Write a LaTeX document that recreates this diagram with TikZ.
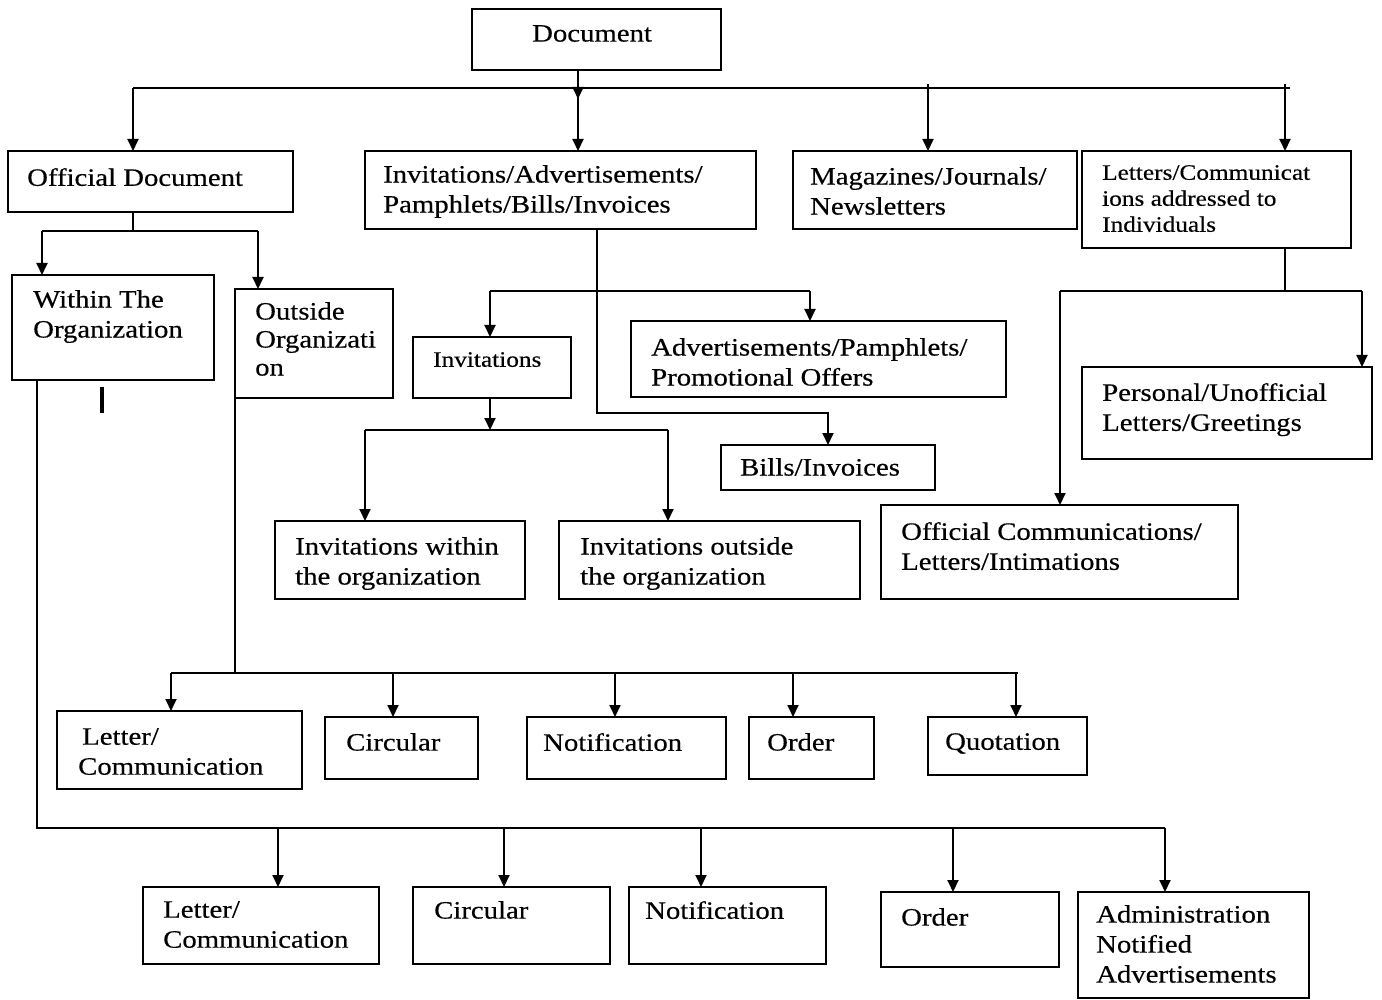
\documentclass[tikz,border=0pt]{standalone}
\usepackage{fontspec}
\setmainfont{Liberation Serif}[FakeStretch=1.15,FakeBold=0.4]
\usetikzlibrary{arrows.meta}
\tikzset{
  box/.style={draw, line width=1.9pt, anchor=north west, inner sep=0pt, outer sep=0pt},
  txt/.style={anchor=north west, inner sep=0pt, align=left, font=\fontsize{25}{30}\selectfont},
  otxt/.style={txt, font=\fontsize{25}{28}\selectfont},
  stxt/.style={txt, font=\fontsize{22}{26}\selectfont},
  conn/.style={line width=1.9pt},
  arr/.style={conn, -{Triangle[length=12pt,width=11pt]}},
}
\newcommand\mybox[5]{\node[box, minimum width={(#4-#2)*1pt}, minimum height={(#5-#3)*1pt}] (#1) at (#2,#3) {};}
\begin{document}
\begin{tikzpicture}[x=1pt,y=-1pt]
\useasboundingbox (0,0) rectangle (1382,1000);
% boxes
\mybox{doc}{472}{9}{721}{70}
\mybox{off}{8}{151}{293}{212}
\mybox{invad}{365}{151}{756}{229}
\mybox{mag}{793}{151}{1077}{229}
\mybox{let}{1082}{151}{1351}{248}
\mybox{within}{12}{275}{214}{380}
\mybox{outside}{235}{289}{393}{398}
\mybox{inv}{413}{337}{571}{398}
\mybox{adv}{631}{321}{1006}{397}
\mybox{bills}{721}{445}{935}{490}
\mybox{pers}{1082}{367}{1372}{459}
\mybox{invw}{275}{521}{525}{599}
\mybox{invo}{559}{521}{860}{599}
\mybox{offc}{881}{505}{1238}{599}
\mybox{lca}{57}{711}{302}{789}
\mybox{cira}{325}{717}{478}{779}
\mybox{nota}{527}{717}{726}{779}
\mybox{orda}{749}{717}{874}{779}
\mybox{quo}{928}{717}{1087}{775}
\mybox{lcb}{143}{887}{379}{964}
\mybox{cirb}{413}{887}{610}{964}
\mybox{notb}{629}{887}{826}{964}
\mybox{ordb}{881}{892}{1059}{967}
\mybox{adm}{1078}{892}{1309}{998}
% texts
\node[txt] (tdoc) at (532,25) {Document};
\node[txt] (toff) at (27,168) {Official Document};
\node[txt] (tinvad) at (383,165) {Invitations/Advertisements/\\Pamphlets/Bills/Invoices};
\node[txt] (tmag) at (810,167) {Magazines/Journals/\\Newsletters};
\node[stxt] (tlet) at (1102,165) {Letters/Communicat\\ions addressed to\\Individuals};
\node[txt] (twithin) at (33,290) {Within The\\Organization};
\node[otxt] (tout) at (255,302) {Outside\\Organizati\\on};
\node[stxt] (tinv) at (433,352) {Invitations};
\node[txt] (tadv) at (651,338) {Advertisements/Pamphlets/\\Promotional Offers};
\node[txt] (tbills) at (740,458) {Bills/Invoices};
\node[txt] (tpers) at (1102,383) {Personal/Unofficial\\Letters/Greetings};
\node[txt] (tinvw) at (295,537) {Invitations within\\the organization};
\node[txt] (tinvo) at (580,537) {Invitations outside\\the organization};
\node[txt] (toffc) at (901,522) {Official Communications/\\Letters/Intimations};
\node[txt] (tlca) at (78,728) {\hspace{4pt}Letter/\\Communication};
\node[txt] (tcira) at (346,733) {Circular};
\node[txt] (tnota) at (543,733) {Notification};
\node[txt] (torda) at (767,733) {Order};
\node[txt] (tquo) at (945,733) {Quotation};
\node[txt] (tlcb) at (163,901) {Letter/\\Communication};
\node[txt] (tcirb) at (434,901) {Circular};
\node[txt] (tnotb) at (645,901) {Notification};
\node[txt] (tordb) at (901,908) {Order};
\node[txt] (tadm) at (1096,905) {Administration\\Notified\\Advertisements};
% top level bus
\coordinate (j0) at (578,88);
\coordinate (bL) at (133,88);
\coordinate (bR) at (1290,88);
\coordinate (tM) at (928,84);
\coordinate (tL) at (1285,84);
\draw[conn] (bL) -- (bR);
\draw[arr] (doc.south -| j0) -- ([yshift=-11pt]j0);
\draw[arr] (j0) -- (invad.north -| j0);
\draw[arr] (bL) -- (off.north -| bL);
\draw[arr] (tM) -- (mag.north -| tM);
\draw[arr] (tL) -- (let.north -| tL);
% official document split
\coordinate (o1) at (133,231);
\coordinate (o1L) at (42,231);
\coordinate (o1R) at (258,231);
\draw[conn] (off.south -| o1) -- (o1);
\draw[conn] (o1L) -- (o1R);
\draw[arr] (o1L) -- (within.north -| o1L);
\draw[arr] (o1R) -- (outside.north -| o1R);
% stray mark
\coordinate (m1) at (102,387);
\coordinate (m2) at (102,413);
\draw[line width=4pt] (m1) -- (m2);
% within the organization bus
\coordinate (w1) at (37,828);
\coordinate (d1) at (278,828);
\coordinate (d2) at (504,828);
\coordinate (d3) at (701,828);
\coordinate (d4) at (953,828);
\coordinate (d5) at (1165,828);
\draw[conn] (within.south -| w1) -- (w1) -- (d5);
\draw[arr] (d1) -- (lcb.north -| d1);
\draw[arr] (d2) -- (cirb.north -| d2);
\draw[arr] (d3) -- (notb.north -| d3);
\draw[arr] (d4) -- (ordb.north -| d4);
\draw[arr] (d5) -- (adm.north -| d5);
% outside organization bus
\coordinate (u0) at (235,673);
\coordinate (u1) at (171,673);
\coordinate (u2) at (393,673);
\coordinate (u3) at (615,673);
\coordinate (u4) at (793,673);
\coordinate (u5) at (1016,673);
\coordinate (uE) at (1018,673);
\draw[conn] (outside.south west) -- (u0);
\draw[conn] (u1) -- (uE);
\draw[arr] (u1) -- (lca.north -| u1);
\draw[arr] (u2) -- (cira.north -| u2);
\draw[arr] (u3) -- (nota.north -| u3);
\draw[arr] (u4) -- (orda.north -| u4);
\draw[arr] (u5) -- (quo.north -| u5);
% invitations/advertisements split
\coordinate (p0) at (597,413);
\coordinate (p1) at (828,413);
\draw[arr] (invad.south -| p0) -- (p0) -- (p1) -- (bills.north -| p1);
\coordinate (s1) at (490,291);
\coordinate (s2) at (810,291);
\draw[conn] (s1) -- (s2);
\draw[arr] (s1) -- (inv.north -| s1);
\draw[arr] (s2) -- (adv.north -| s2);
% invitations split
\coordinate (i0) at (490,430);
\coordinate (iL) at (365,430);
\coordinate (iR) at (668,430);
\draw[arr] (inv.south -| i0) -- (i0);
\draw[conn] (iL) -- (iR);
\draw[arr] (iL) -- (invw.north -| iL);
\draw[arr] (iR) -- (invo.north -| iR);
% letters split
\coordinate (l0) at (1285,291);
\coordinate (lL) at (1060,291);
\coordinate (lR) at (1362,291);
\draw[conn] (let.south -| l0) -- (l0);
\draw[conn] (lL) -- (lR);
\draw[arr] (lR) -- (pers.north -| lR);
\draw[arr] (lL) -- (offc.north -| lL);
\end{tikzpicture}
\end{document}
